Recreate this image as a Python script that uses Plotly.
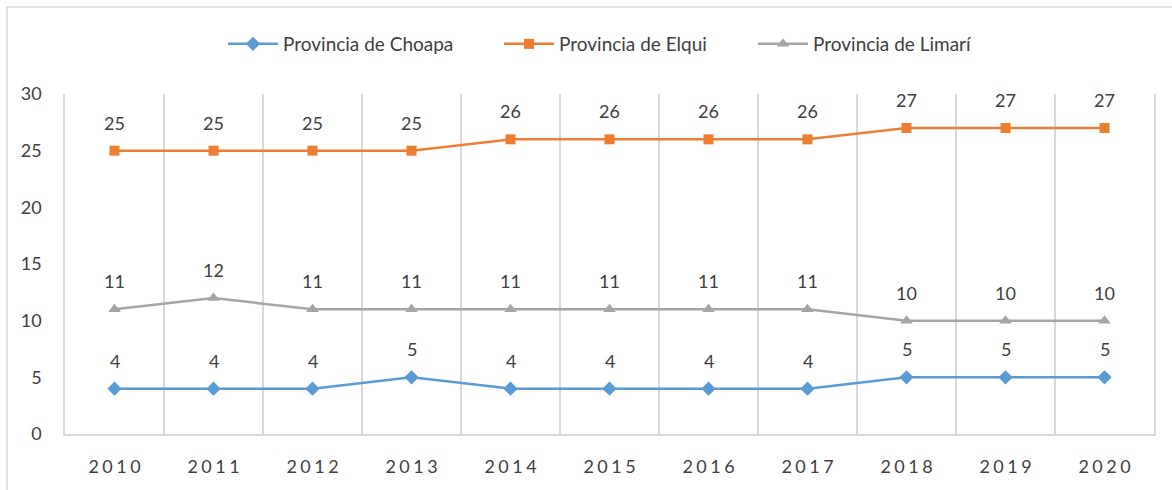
import plotly.graph_objects as go

years = ["2010", "2011", "2012", "2013", "2014", "2015", "2016", "2017", "2018", "2019", "2020"]
choapa = [4, 4, 4, 5, 4, 4, 4, 4, 5, 5, 5]
elqui = [25, 25, 25, 25, 26, 26, 26, 26, 27, 27, 27]
limari = [11, 12, 11, 11, 11, 11, 11, 11, 10, 10, 10]

series = [
    ("Provincia de Choapa", choapa, "#5B9BD5", "diamond", 11, "legend", 273),
    ("Provincia de Elqui", elqui, "#ED7D31", "square", 10, "legend2", 549),
    ("Provincia de Limarí", limari, "#A5A5A5", "triangle-up", 11, "legend3", 803),
]

FONT = "Lato, 'Open Sans', sans-serif"
TXT = "#404040"
FS = 18
L, R, T, B = 65, 18, 94, 56
PW = 1172 - L - R
PH = 490 - T - B

idx = list(range(len(years)))

fig = go.Figure()
annotations = []
legends = {}
for name, vals, color, sym, msize, leg, lx in series:
    fig.add_trace(go.Scatter(
        x=idx, y=vals, name=name, mode="lines+markers", legend=leg,
        line=dict(color=color, width=2.5),
        marker=dict(symbol=sym, size=msize, color=color),
    ))
    legends[leg] = dict(orientation="h", x=(lx - 50 - L) / PW, xanchor="left",
                        y=(434 - 44) / PH, yanchor="middle", itemwidth=50,
                        font=dict(family=FONT, size=19, color=TXT),
                        bgcolor="rgba(0,0,0,0)")
    for xv, yv in zip(idx, vals):
        annotations.append(dict(
            x=xv, y=yv, text=str(yv), showarrow=False, yshift=28,
            xanchor="center", yanchor="middle",
            font=dict(family=FONT, size=FS, color=TXT),
        ))

fig.update_layout(
    width=1172, height=490,
    margin=dict(l=L, r=R, t=T, b=B, autoexpand=False),
    paper_bgcolor="white", plot_bgcolor="white",
    font=dict(family=FONT, size=FS, color=TXT),
    showlegend=True,
    annotations=annotations,
    shapes=[dict(type="rect", xref="paper", yref="paper",
                 x0=(7 - L) / PW, x1=(1200 - L) / PW,
                 y0=(434 - 520) / PH, y1=(434 - 7) / PH,
                 line=dict(color="#D9D9D9", width=1.5), fillcolor="rgba(0,0,0,0)",
                 layer="below")],
    **legends,
)
fig.update_xaxes(
    range=[-0.5, len(years) - 0.5], tickvals=idx, ticktext=years, tickangle=0,
    showgrid=False, automargin=False,
    minor=dict(tickvals=[i - 0.5 for i in range(len(years) + 1)], showgrid=True,
               gridcolor="#D9D9D9", gridwidth=1.5, ticks=""),
    showline=True, linecolor="#D9D9D9", linewidth=1.5, ticks="", ticklabelstandoff=16,
    tickfont=dict(family=FONT, size=FS, color=TXT), zeroline=False,
)
fig.update_yaxes(
    range=[0, 30], tickvals=[0, 5, 10, 15, 20, 25, 30], showgrid=False, automargin=False,
    showline=True, mirror=True, linecolor="#D9D9D9", linewidth=1.5, ticks="",
    ticklabelstandoff=18, tickfont=dict(family=FONT, size=FS, color=TXT), zeroline=False,
)

post = """
document.body.style.margin='0';
document.body.style.padding='0';
function spaceTicks(){
  document.querySelectorAll('.xtick text').forEach(function(t){
    t.style.letterSpacing='3.5px';
    t.setAttribute('dx','1.75');
  });
}
spaceTicks();
var gd=document.getElementsByClassName('plotly-graph-div')[0];
gd.on('plotly_afterplot', spaceTicks);
"""
fig.write_html("out.html", post_script=post,
               config={"responsive": False, "displayModeBar": False})
